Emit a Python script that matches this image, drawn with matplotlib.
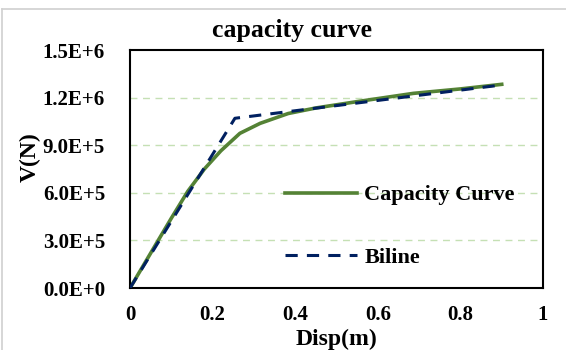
import matplotlib
matplotlib.use("Agg")
import matplotlib.pyplot as plt
from matplotlib.lines import Line2D

# pushover capacity curve (displacement in m, base shear in N)
cap_disp = [0, 0.05, 0.10, 0.14, 0.18, 0.22, 0.266, 0.315, 0.383, 0.45, 0.55, 0.686, 0.80, 0.90]
cap_shear = [0, 2.2e5, 4.4e5, 6.1e5, 7.5e5, 8.65e5, 9.75e5, 1.038e6, 1.10e6, 1.135e6, 1.175e6, 1.227e6, 1.255e6, 1.284e6]

# bilinear idealisation
bi_disp = [0, 0.254, 0.90]
bi_shear = [0, 1.07e6, 1.28e6]

x_ticks = [0, 0.2, 0.4, 0.6, 0.8, 1]
x_labels = ["0", "0.2", "0.4", "0.6", "0.8", "1"]
y_ticks = [0, 3e5, 6e5, 9e5, 1.2e6, 1.5e6]
y_labels = ["0.0E+0", "3.0E+5", "6.0E+5", "9.0E+5", "1.2E+6", "1.5E+6"]

plt.rcParams['font.family'] = ['Liberation Serif', 'DejaVu Serif']
plt.rcParams['font.weight'] = 'bold'

fig = plt.figure(figsize=(5.66, 3.5), dpi=100)
ax = fig.add_axes([0.2297, 0.177, 0.7297, 0.680])

# light grey frame along top and left edge
fig.add_artist(Line2D([1.5 / 566, 1.0], [1 - 8.5 / 350] * 2, transform=fig.transFigure,
                      color='#d0d0d0', linewidth=1.2))
fig.add_artist(Line2D([1.5 / 566] * 2, [0, 1 - 8.5 / 350], transform=fig.transFigure,
                      color='#d0d0d0', linewidth=1.2))

for y in y_ticks[1:-1]:
    ax.axhline(y, color='#c5e0b4', linestyle=(0, (5, 4)), linewidth=1.0, zorder=0)

ax.plot(cap_disp, cap_shear, color='#548235', linewidth=2.6, label='Capacity Curve', zorder=2)
ax.plot(bi_disp, bi_shear, color='#002060', linewidth=2.2, linestyle=(0, (4, 3)),
        label='Biline', zorder=3)

ax.set_xlim(0, 1)
ax.set_ylim(0, 1.5e6)
ax.set_xticks(x_ticks)
ax.set_xticklabels(x_labels)
ax.set_yticks(y_ticks)
ax.set_yticklabels(y_labels)
ax.tick_params(axis='y', length=0, labelsize=15, pad=18)
ax.tick_params(axis='x', length=0, labelsize=15, pad=12)
for lab in ax.get_xticklabels() + ax.get_yticklabels():
    lab.set_fontweight('bold')
for s in ax.spines.values():
    s.set_linewidth(1.5)
    s.set_color('black')

fig.text(292 / 566, 1 - 31 / 350, 'capacity curve', fontsize=18.5, fontweight='bold',
         ha='center', va='center')
ax.set_xlabel('Disp(m)', fontsize=17, fontweight='bold', labelpad=3)
ax.set_ylabel('V(N)', fontsize=17, fontweight='bold')
ax.yaxis.set_label_coords(-0.216, 0.55)

leg = ax.legend(loc='center left', bbox_to_anchor=(0.328, 0.259), frameon=False,
                handlelength=3.2, labelspacing=1.9, handletextpad=0.35,
                prop={'size': 16, 'weight': 'bold'})

fig.savefig('out.png', dpi=100)
